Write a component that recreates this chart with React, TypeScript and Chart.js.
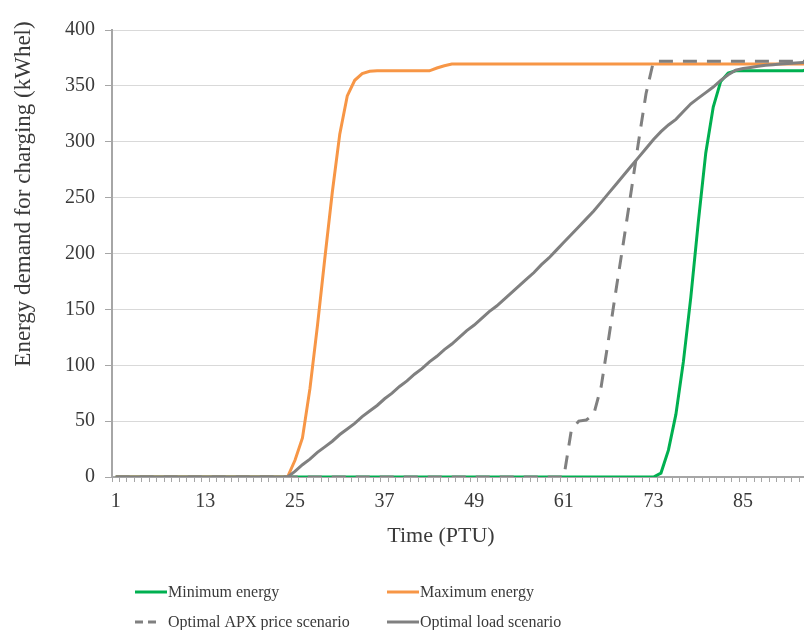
import React, { useEffect, useRef } from 'react';
import { Chart, registerables } from 'chart.js';

Chart.register(...registerables);

// PTU categories (1..96)
const ptu = [
  '1','2','3','4','5','6','7','8','9','10','11','12','13','14','15','16','17','18','19','20','21','22','23','24',
  '25','26','27','28','29','30','31','32','33','34','35','36','37','38','39','40','41','42','43','44','45','46','47','48',
  '49','50','51','52','53','54','55','56','57','58','59','60','61','62','63','64','65','66','67','68','69','70','71','72',
  '73','74','75','76','77','78','79','80','81','82','83','84','85','86','87','88','89','90','91','92','93','94','95','96',
];

// labelled ticks on the x axis
const xTickLabels = ['1', '13', '25', '37', '49', '61', '73', '85'];

// Minimum energy (green)
const minimumEnergy = [
  0,0,0,0,0,0,0,0,0,0,0,0,0,0,0,0,0,0,0,0,0,0,0,0,
  0,0,0,0,0,0,0,0,0,0,0,0,0,0,0,0,0,0,0,0,0,0,0,0,
  0,0,0,0,0,0,0,0,0,0,0,0,0,0,0,0,0,0,0,0,0,0,0,0,
  0,3.5,24,56,103,161,228,290,331,354,361.5,363.5,363.5,363.5,363.5,363.5,363.5,363.5,363.5,363.5,363.5,365.5,368.5,370,
];

// Maximum energy (orange)
const maximumEnergy = [
  0,0,0,0,0,0,0,0,0,0,0,0,0,0,0,0,0,0,0,0,0,0,0,0,
  15,35,79,135,196,255,307,341,355,361,363,363.5,363.5,363.5,363.5,363.5,363.5,363.5,363.5,366,368,369.5,369.5,369.5,
  369.5,369.5,369.5,369.5,369.5,369.5,369.5,369.5,369.5,369.5,369.5,369.5,369.5,369.5,369.5,369.5,369.5,369.5,369.5,369.5,369.5,369.5,369.5,369.5,
  369.5,369.5,369.5,369.5,369.5,369.5,369.5,369.5,369.5,369.5,369.5,369.5,369.5,369.5,369.5,369.5,369.5,369.5,369.5,369.5,369.5,369.5,369.5,369.5,
];

// Optimal APX price scenario (dashed grey)
const optimalApx = [
  0,0,0,0,0,0,0,0,0,0,0,0,0,0,0,0,0,0,0,0,0,0,0,0,
  0,0,0,0,0,0,0,0,0,0,0,0,0,0,0,0,0,0,0,0,0,0,0,0,
  0,0,0,0,0,0,0,0,0,0,0,0,0,42,50,51,56,81,124,168,211,255,300,343,
  372,372,372,372,372,372,372,372,372,372,372,372,372,372,372,372,372,372,372,372,372,372,372,372,
];

// Optimal load scenario (solid grey)
const optimalLoad = [
  0,0,0,0,0,0,0,0,0,0,0,0,0,0,0,0,0,0,0,0,0,0,0,0,
  5,11,16,22,27,32,38,43,48,54,59,64,70,75,81,86,92,97,103,108,114,119,125,131,
  136,142,148,153,159,165,171,177,183,190,196,203,210,217,224,231,238,246,254,262,270,278,286,294,
  302,309,315,320,327,334,339,344,349,355,360,364,365.5,366.5,367.5,368.5,369,369.5,370,370.5,371,371,371,371,
];

const seriesNames = ['Minimum energy', 'Maximum energy', 'Optimal APX price scenario', 'Optimal load scenario'];
const seriesColors = ['#00B050', '#F79646', '#808080', '#808080'];

const FONT = "'Liberation Serif', 'Times New Roman', serif";
const TEXT = '#3a3a3a';
const AXIS = '#a6a6a6';

export default function App() {
  const ref = useRef<HTMLCanvasElement>(null);

  useEffect(() => {
    document.documentElement.style.overflow = 'hidden';
    document.body.style.overflow = 'hidden';

    const titlesAndLegend = {
      id: 'titlesAndLegend',
      afterDraw(chart: any) {
        const ctx = chart.ctx as CanvasRenderingContext2D;
        ctx.save();
        ctx.fillStyle = TEXT;
        // y title
        ctx.save();
        ctx.translate(16, 186);
        ctx.rotate(-Math.PI / 2);
        ctx.font = `23px ${FONT}`;
        ctx.textAlign = 'center';
        ctx.textBaseline = 'middle';
        ctx.fillText('Energy demand for charging (kWhel)', 0, 0);
        ctx.restore();
        // x title
        ctx.font = `22px ${FONT}`;
        ctx.textAlign = 'center';
        ctx.textBaseline = 'alphabetic';
        ctx.fillText('Time (PTU)', 433, 534);

        // legend
        const rows = [584, 614];
        const cols = [127, 379];
        const items = [
          { i: 0, r: 0, c: 0, dash: [] as number[], len: 32 },
          { i: 1, r: 0, c: 1, dash: [] as number[], len: 32 },
          { i: 2, r: 1, c: 0, dash: [8, 5], len: 22 },
          { i: 3, r: 1, c: 1, dash: [] as number[], len: 32 },
        ];
        ctx.font = `16px ${FONT}`;
        ctx.textAlign = 'left';
        ctx.textBaseline = 'middle';
        for (const it of items) {
          const x = cols[it.c];
          const y = rows[it.r];
          ctx.beginPath();
          ctx.setLineDash(it.dash);
          ctx.strokeStyle = seriesColors[it.i];
          ctx.lineWidth = 3;
          ctx.moveTo(x, y);
          ctx.lineTo(x + it.len, y);
          ctx.stroke();
          ctx.setLineDash([]);
          ctx.fillStyle = TEXT;
          ctx.fillText(seriesNames[it.i], x + 33, y + 1);
        }
        ctx.restore();
      },
    };

    const mk = (idx: number, data: number[], order: number, dash: number[] = []) => ({
      label: seriesNames[idx],
      data,
      borderColor: seriesColors[idx],
      backgroundColor: seriesColors[idx],
      borderWidth: 3,
      borderDash: dash,
      pointRadius: 0,
      pointHoverRadius: 0,
      tension: 0,
      fill: false,
      order,
    });

    const chart = new Chart(ref.current as HTMLCanvasElement, {
      type: 'line',
      data: {
        labels: ptu,
        datasets: [
          mk(0, minimumEnergy, 3),
          mk(1, maximumEnergy, 2),
          mk(2, optimalApx, 1, [14, 10]),
          mk(3, optimalLoad, 0),
        ],
      },
      options: {
        responsive: false,
        animation: false,
        devicePixelRatio: 1,
        layout: { padding: { left: 0, top: 13, right: 19, bottom: 0 } },
        plugins: { legend: { display: false }, tooltip: { enabled: false } },
        scales: {
          x: {
            type: 'category',
            offset: true,
            grid: {
              offset: true,
              drawOnChartArea: false,
              drawTicks: true,
              tickLength: 5,
              tickColor: AXIS,
              tickWidth: 1,
            },
            border: { color: AXIS, width: 2 },
            ticks: {
              autoSkip: false,
              maxRotation: 0,
              minRotation: 0,
              padding: 8,
              color: TEXT,
              font: { family: FONT, size: 20 },
              callback: (_v: any, i: number) => (xTickLabels.includes(ptu[i]) ? ptu[i] : ''),
            },
            afterFit: (s: any) => {
              s.height = 153;
            },
          },
          y: {
            min: 0,
            max: 400,
            grid: { color: '#d9d9d9', lineWidth: 1, tickColor: AXIS, tickLength: 7 },
            border: { color: AXIS, width: 2 },
            ticks: { stepSize: 50, padding: 10, color: TEXT, font: { family: FONT, size: 20 } },
            afterFit: (s: any) => {
              s.width = 104;
            },
          },
        },
      },
      plugins: [titlesAndLegend],
    } as any);
    return () => chart.destroy();
  }, []);

  return (
    <div style={{ width: 804, height: 622, overflow: 'hidden' }}>
      <canvas ref={ref} width={840} height={622} style={{ display: 'block' }} />
    </div>
  );
}
